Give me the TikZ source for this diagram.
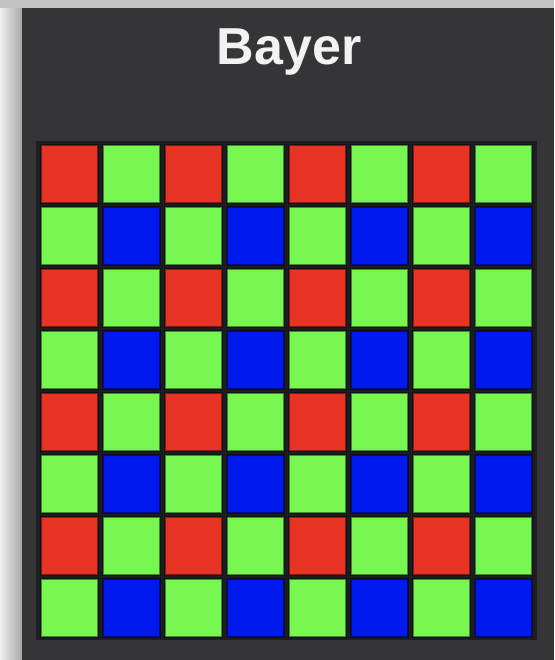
\documentclass[tikz,border=0pt]{standalone}
\usepackage{fontspec}
\setmainfont{Liberation Sans}
\definecolor{panel}{HTML}{353436}
\definecolor{frame}{HTML}{1D1E21}
\definecolor{cred}{HTML}{E83425}
\definecolor{cgreen}{HTML}{77F74F}
\definecolor{cblue}{HTML}{0019EE}
\definecolor{titlec}{HTML}{F2F2F2}
\definecolor{shadowa}{HTML}{EEEFF0}
\definecolor{shadowb}{HTML}{A8A8A8}
\definecolor{topgrey}{HTML}{C2C2C2}
\tikzset{
  cellbox/.style={fill=#1, draw=black, draw opacity=0.45, line width=2pt},
}
\begin{document}
\begin{tikzpicture}[x=1pt,y=-1pt]
\useasboundingbox (0,0) rectangle (554,660);
% left shadow and top strip
\shade[left color=shadowa, right color=shadowb] (0,0) rectangle (22,660);
\fill[topgrey] (0,0) rectangle (554,8);
% panel
\fill[panel] (22,8) rectangle (554,660);
% title
\node[text=titlec, font=\bfseries\fontsize{52}{60}\selectfont, anchor=base] (title) at (289,65) {Bayer};
% grid frame
\fill[frame] (36,141) rectangle (537,640);
\foreach \j in {0,...,7}{
  \foreach \i in {0,...,7}{
    \pgfmathtruncatemacro{\pi}{mod(\i,2)}
    \pgfmathtruncatemacro{\pj}{mod(\j,2)}
    \ifnum\pj=0
      \ifnum\pi=0 \def\cc{cred}\else\def\cc{cgreen}\fi
    \else
      \ifnum\pi=0 \def\cc{cgreen}\else\def\cc{cblue}\fi
    \fi
    \path[cellbox=\cc] ({40+62*\i+1},{144+62*\j+1}) rectangle ({40+62*\i+59-1},{144+62*\j+60-1});
  }
}
\end{tikzpicture}
\end{document}
